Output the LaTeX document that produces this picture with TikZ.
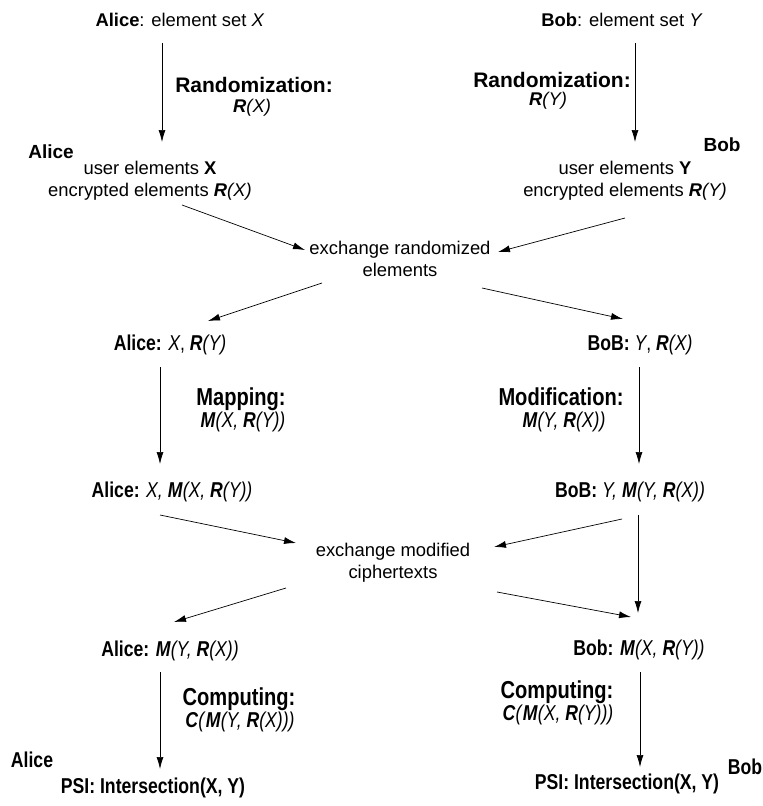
\documentclass[tikz,border=0pt]{standalone}
\usepackage{fontspec}
\setmainfont{Liberation Sans}
\newfontfamily\narrowfont[FakeStretch=0.82]{Liberation Sans}
\usetikzlibrary{arrows.meta}

\newcommand\bi[1]{\textbf{\textit{#1}}}

\tikzset{
  txt/.style={inner sep=0pt, align=center, font=\fontsize{18.4}{22}\selectfont},
  head/.style={inner sep=0pt, align=center, font=\fontsize{21}{24}\selectfont\bfseries},
  tag/.style={inner sep=0pt, font=\fontsize{19}{22}\selectfont\bfseries},
  nartag/.style={inner sep=0pt, font=\narrowfont\fontsize{21.5}{25}\selectfont\bfseries},
  nar/.style={inner sep=0pt, align=center, font=\narrowfont\fontsize{21.5}{25}\selectfont},
  narhead/.style={inner sep=0pt, align=center, font=\narrowfont\fontsize{24.5}{28}\selectfont\bfseries},
  arr/.style={-{Latex[length=12pt,width=7pt]}, line width=0.7pt},
}

\begin{document}
\begin{tikzpicture}[x=1pt, y=-1pt]
\useasboundingbox (0,0) rectangle (763,806);

% ---- initial sets
\node[txt] (a0) at (180,20) {\textbf{Alice}: element set \textit{X}};
\node[txt] (b0) at (622,20) {\textbf{Bob}: element set \textit{Y}};

% ---- randomization step
\node[head] (ra) at (254,85) {Randomization:};
\node[txt]  (rax) at (252,108) {\bi{R}\textit{(X)}};
\node[head] (rb) at (552,80) {Randomization:};
\node[txt]  (rby) at (548,101) {\bi{R}\textit{(Y)}};

\node[tag] (ta1) at (51,152) {Alice};
\node[tag] (tb1) at (722,145) {Bob};
\node[txt] (a1) at (150,181) {user elements \textbf{X}\\encrypted elements \bi{R}\textit{(X)}};
\node[txt] (b1) at (625,181) {user elements \textbf{Y}\\encrypted elements \bi{R}\textit{(Y)}};

\coordinate (a0s) at (162,43);  \coordinate (a1n) at (162,142);
\coordinate (b0s) at (635,43);  \coordinate (b1n) at (635,142);
\draw[arr] (a0s) -- (a1n);
\draw[arr] (b0s) -- (b1n);

% ---- first exchange
\node[txt] (ex1) at (400,259) {exchange randomized\\elements};
\coordinate (a1o) at (182,205); \coordinate (ex1w) at (305,250);
\coordinate (b1o) at (625,218); \coordinate (ex1e) at (498,252);
\draw[arr] (a1o) -- (ex1w);
\draw[arr] (b1o) -- (ex1e);

\node[nar] (a2) at (170,345) {\textbf{Alice:} \textit{X}, \bi{R}\textit{(Y)}};
\node[nar] (b2) at (640,345) {\textbf{BoB:} \textit{Y}, \bi{R}\textit{(X)}};
\coordinate (ex1sw) at (322,283); \coordinate (a2n) at (208,321);
\coordinate (ex1se) at (482,288); \coordinate (b2n) at (623,319);
\draw[arr] (ex1sw) -- (a2n);
\draw[arr] (ex1se) -- (b2n);

% ---- mapping / modification step (placed by baseline)
\node[narhead, anchor=base] (ma) at (241,405) {Mapping:};
\node[nar, anchor=base] (max) at (243,427) {\bi{M}\textit{(X,} \bi{R}\textit{(Y))}};
\node[narhead, anchor=base] (mb) at (561,405) {Modification:};
\node[nar, anchor=base] (mby) at (564,427) {\bi{M}\textit{(Y,} \bi{R}\textit{(X))}};

\node[nar] (a3) at (172,492) {\textbf{Alice:} \textit{X,} \bi{M}\textit{(X,} \bi{R}\textit{(Y))}};
\node[nar] (b3) at (630,492) {\textbf{BoB:} \textit{Y,} \bi{M}\textit{(Y,} \bi{R}\textit{(X))}};
\coordinate (a2s) at (160,367); \coordinate (a3n) at (160,464);
\coordinate (b2s) at (639,367); \coordinate (b3n) at (639,464);
\draw[arr] (a2s) -- (a3n);
\draw[arr] (b2s) -- (b3n);

% ---- second exchange
\node[txt] (ex2) at (393,563) {exchange modified\\ciphertexts};
\coordinate (a3o) at (160,515); \coordinate (ex2w) at (296,543);
\coordinate (b3o) at (622,519); \coordinate (ex2e) at (494,547);
\draw[arr] (a3o) -- (ex2w);
\draw[arr] (b3o) -- (ex2e);

\node[nar] (a4) at (170,651) {\textbf{Alice:} \bi{M}\textit{(Y,} \bi{R}\textit{(X))}};
\node[nar] (b4) at (639,650) {\textbf{Bob:} \bi{M}\textit{(X,} \bi{R}\textit{(Y))}};
\coordinate (b3s) at (638,515); \coordinate (b4n) at (638,613);
\draw[arr] (b3s) -- (b4n);
\coordinate (ex2sw) at (286,588); \coordinate (a4n) at (174,622);
\coordinate (ex2se) at (497,592); \coordinate (b4ne) at (631,617);
\draw[arr] (ex2sw) -- (a4n);
\draw[arr] (ex2se) -- (b4ne);

% ---- computing step (placed by baseline)
\node[narhead, anchor=base] (ca) at (239,705) {Computing:};
\node[nar, anchor=base] (cax) at (240,727) {\bi{C}\textit{(}\bi{M}\textit{(Y,} \bi{R}\textit{(X)))}};
\node[narhead, anchor=base] (cb) at (557,698) {Computing:};
\node[nar, anchor=base] (cby) at (558,720) {\bi{C}\textit{(}\bi{M}\textit{(X,} \bi{R}\textit{(Y)))}};

\node[nartag] (ta5) at (32,760) {Alice};
\node[nartag] (tb5) at (745,767) {Bob};
\node[nar] (a5) at (153,788) {\textbf{PSI: Intersection(X, Y)}};
\node[nar] (b5) at (627,784) {\textbf{PSI: Intersection(X, Y)}};
\coordinate (a4s) at (160,672); \coordinate (a5n) at (160,769);
\coordinate (b4s) at (640,672); \coordinate (b5n) at (640,767);
\draw[arr] (a4s) -- (a5n);
\draw[arr] (b4s) -- (b5n);
\end{tikzpicture}
\end{document}
